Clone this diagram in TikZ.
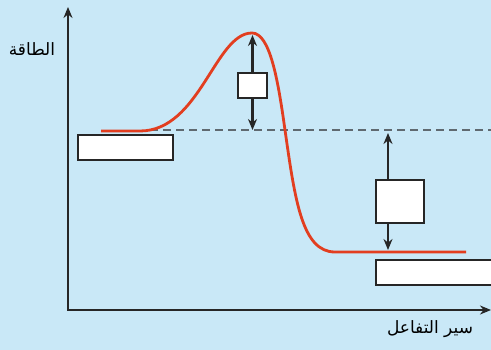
\documentclass[tikz,border=0pt]{standalone}
\usepackage{fontspec}
\usepackage{xcolor}
\usepackage{tikz}
\usetikzlibrary{arrows.meta,calc}
\TeXXeTstate=1
\newfontfamily\arabicfont[Script=Arabic]{DejaVu Sans}
\definecolor{bgblue}{RGB}{201,232,247}
\definecolor{curvered}{RGB}{226,62,32}
\definecolor{axisgray}{RGB}{38,38,38}
\definecolor{dashgray}{RGB}{95,105,112}

\begin{document}
\begin{tikzpicture}[x=1pt,y=-1pt,>={Stealth[length=11pt,width=9pt]},
 levelbox/.style={draw=axisgray,line width=2.2pt,fill=white,inner sep=0pt},
 gaparrow/.style={<->,axisgray,line width=2.2pt}]
\clip (0,0) rectangle (491,350);
\fill[bgblue] (0,0) rectangle (491,350);
% axes
\coordinate (origin) at (68,310);
\coordinate (ytip) at (68,7);
\coordinate (xtip) at (491,310);
\draw[<->,axisgray,line width=2.2pt] (ytip) |- (xtip);
\node[font=\arabicfont\fontsize{17}{20}\selectfont] (ylab) at (32,49) {\beginR الطاقة\endR};
\node[font=\arabicfont\fontsize{17}{20}\selectfont] (xlab) at (430,329) {\beginR سير التفاعل\endR};
% dashed level of the reactants
\draw[dashgray,line width=1.8pt,dash pattern=on 8pt off 5pt] (150,130) -- (491,130);
% energy curve
\coordinate (peak) at (252,33);
\draw[curvered,line width=2.8pt] (101,131) -- (140,131)
 .. controls (200,131) and (215,33) .. (peak)
 .. controls (270,33) and (278,80) .. (285,130)
 .. controls (295,200) and (302,252) .. (335,252) -- (466,252);
% level boxes
\node[levelbox,minimum width=95pt,minimum height=25pt] (react) at (125.5,147.5) {};
\node[levelbox,minimum width=124pt,minimum height=25pt] (prod) at (438,272.5) {};
% energy gaps
\coordinate (eatop) at (252.5,35);
\coordinate (eabot) at (252.5,130);
\draw[gaparrow] (eatop) -- (eabot);
\node[levelbox,minimum width=29pt,minimum height=25pt] (eabox) at (252.5,85.5) {};
\coordinate (dhtop) at (388,133);
\coordinate (dhbot) at (388,250);
\draw[gaparrow] (dhtop) -- (dhbot);
\node[levelbox,minimum width=48pt,minimum height=43pt] (dhbox) at (400,201.5) {};
\end{tikzpicture}
\end{document}
